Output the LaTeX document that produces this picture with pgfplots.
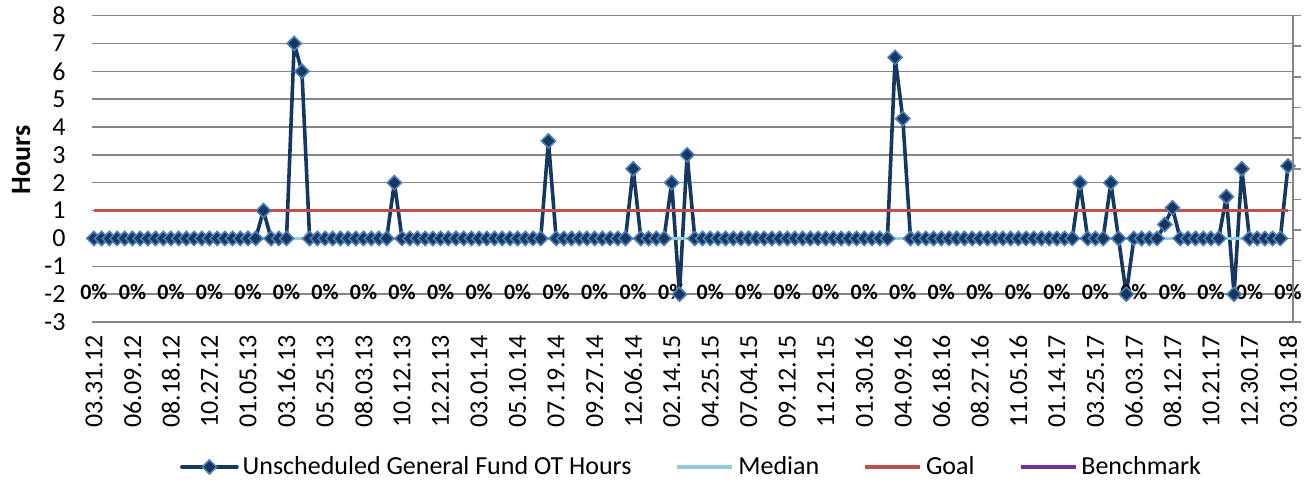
\documentclass[border=0pt]{standalone}
\usepackage{fontspec}
\setmainfont{Carlito}
\usepackage{pgfplots}
\pgfplotsset{compat=1.18}

\definecolor{otnavy}{RGB}{23,55,94}
\definecolor{otedge}{RGB}{74,126,187}
\definecolor{medblue}{RGB}{147,205,221}
\definecolor{goalred}{RGB}{192,80,77}
\definecolor{benchpurple}{RGB}{112,48,160}
\definecolor{gridgray}{RGB}{134,134,134}

\begin{document}
\begin{tikzpicture}
\begin{axis}[
    name=main,
    scale only axis,
    width=600.5pt,
    height=153.2pt,
    xmin=-0.25, xmax=155.65,
    ymin=-3, ymax=8,
    ytick={-3,-2,-1,0,1,2,3,4,5,6,7,8},
    yticklabels={-3,-2,-1,0,1,2,3,4,5,6,7,8},
    xtick={0,5,10,15,20,25,30,35,40,45,50,55,60,65,70,75,80,85,90,95,100,105,110,115,120,125,130,135,140,145,150,155},
    xticklabels={03.31.12,06.09.12,08.18.12,10.27.12,01.05.13,03.16.13,05.25.13,08.03.13,10.12.13,12.21.13,03.01.14,05.10.14,07.19.14,09.27.14,12.06.14,02.14.15,04.25.15,07.04.15,09.12.15,11.21.15,01.30.16,04.09.16,06.18.16,08.27.16,11.05.16,01.14.17,03.25.17,06.03.17,08.12.17,10.21.17,12.30.17,03.10.18},
    axis line style={draw=none},
    major tick length=0pt,
    ymajorgrids,
    grid style={gridgray, line width=0.75pt},
    tick label style={font=\fontsize{13}{15}\selectfont},
    xticklabel style={rotate=90, anchor=east, inner sep=0pt},
    yticklabel style={anchor=east, inner sep=0pt},
    xticklabel shift=6.5pt,
    yticklabel shift=13pt,
    ylabel={Hours},
    ylabel style={font=\fontsize{14}{16}\selectfont\bfseries, at={(axis description cs:-0.059,0.529)}, anchor=center},
    clip=false,
    legend columns=4,
    legend style={draw=none, fill=none, at={(axis description cs:0.5,-0.473)}, anchor=center,
      font=\fontsize{13}{15}\selectfont,
      /tikz/every even column/.append style={column sep=20pt}},
    legend image code/.code={\draw[mark repeat=2, mark phase=2, #1] plot coordinates {(0pt,0pt) (13.75pt,0pt) (27.5pt,0pt)};},
  ]
  % data labels along -2
  \addplot[draw=none, mark=none, forget plot,
    nodes near coords={\bfseries 0\%},
    every node near coord/.append style={anchor=center, yshift=0.9pt, font=\fontsize{11}{13}\selectfont}]
    coordinates {
    (0,-2) (5,-2) (10,-2) (15,-2) (20,-2) (25,-2) (30,-2) (35,-2)
    (40,-2) (45,-2) (50,-2) (55,-2) (60,-2) (65,-2) (70,-2) (75,-2)
    (80,-2) (85,-2) (90,-2) (95,-2) (100,-2) (105,-2) (110,-2) (115,-2)
    (120,-2) (125,-2) (130,-2) (135,-2) (140,-2) (145,-2) (150,-2) (155,-2)
  };
  \addplot[otnavy, line width=1.8pt, line join=round, line cap=round,
    mark=square*, mark size=2.5pt,
    mark options={rotate=45, fill=otnavy, draw=otedge, line width=0.8pt, line join=miter}]
    coordinates {
    (0,0) (1,0) (2,0) (3,0) (4,0) (5,0) (6,0) (7,0) (8,0) (9,0)
    (10,0) (11,0) (12,0) (13,0) (14,0) (15,0) (16,0) (17,0) (18,0) (19,0)
    (20,0) (21,0) (22,1) (23,0) (24,0) (25,0) (26,7) (27,6) (28,0) (29,0)
    (30,0) (31,0) (32,0) (33,0) (34,0) (35,0) (36,0) (37,0) (38,0) (39,2)
    (40,0) (41,0) (42,0) (43,0) (44,0) (45,0) (46,0) (47,0) (48,0) (49,0)
    (50,0) (51,0) (52,0) (53,0) (54,0) (55,0) (56,0) (57,0) (58,0) (59,3.5)
    (60,0) (61,0) (62,0) (63,0) (64,0) (65,0) (66,0) (67,0) (68,0) (69,0)
    (70,2.5) (71,0) (72,0) (73,0) (74,0) (75,2) (76,-2) (77,3) (78,0) (79,0)
    (80,0) (81,0) (82,0) (83,0) (84,0) (85,0) (86,0) (87,0) (88,0) (89,0)
    (90,0) (91,0) (92,0) (93,0) (94,0) (95,0) (96,0) (97,0) (98,0) (99,0)
    (100,0) (101,0) (102,0) (103,0) (104,6.5) (105,4.3) (106,0) (107,0) (108,0) (109,0)
    (110,0) (111,0) (112,0) (113,0) (114,0) (115,0) (116,0) (117,0) (118,0) (119,0)
    (120,0) (121,0) (122,0) (123,0) (124,0) (125,0) (126,0) (127,0) (128,2) (129,0)
    (130,0) (131,0) (132,2) (133,0) (134,-2) (135,0) (136,0) (137,0) (138,0) (139,0.5)
    (140,1.1) (141,0) (142,0) (143,0) (144,0) (145,0) (146,0) (147,1.5) (148,-2) (149,2.5)
    (150,0) (151,0) (152,0) (153,0) (154,0) (155,2.6)
  };
  \addlegendentry{Unscheduled General Fund OT Hours}
  \addplot[medblue, line width=1.9pt, mark=none] coordinates {(0,0) (155,0)};
  \addlegendentry{Median}
  \addplot[goalred, line width=1.9pt, mark=none] coordinates {(0,1) (155,1)};
  \addlegendentry{Goal}
  \addlegendimage{benchpurple, line width=1.9pt}
  \addlegendentry{Benchmark}
\end{axis}
\begin{axis}[
    scale only axis,
    width=600.5pt,
    height=153.2pt,
    xmin=-0.25, xmax=155.65,
    ymin=0, ymax=10,
    axis x line=none,
    axis y line*=right,
    ytick={0,1,2,3,4,5,6,7,8,9,10},
    yticklabels={},
    tick align=outside,
    major tick length=4pt,
    axis line style={gridgray, line width=0.75pt, -},
    tick style={gridgray, line width=0.75pt},
  ]
\end{axis}
\pgfresetboundingbox
\path ([shift={(-46pt,-83.5pt)}]main.south west) rectangle ([shift={(608.5pt,161pt)}]main.south west);
\end{tikzpicture}
\end{document}
